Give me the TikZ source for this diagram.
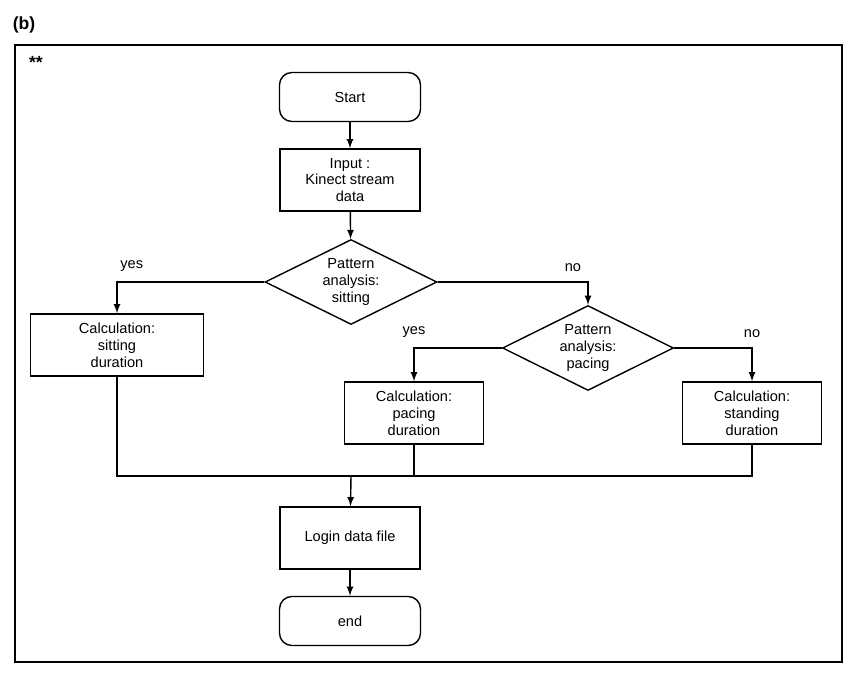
\documentclass[tikz,border=0pt]{standalone}
\usepackage{fontspec}
\setmainfont{Liberation Sans}
\usetikzlibrary{shapes.geometric}
\begin{document}
\begin{tikzpicture} [
                x=0.02cm, y=-0.02cm,
                every node/.style={font=\fontsize{8.3}{9.6}\selectfont, align=center},
                box/.style={draw, thick, inner sep=0pt},
                terminal/.style={box, rounded corners=7pt, minimum width=2.82cm, minimum height=0.98cm},
                process/.style={box, minimum width=2.8cm, minimum height=1.24cm},
                decision/.style={box, diamond, aspect=2, minimum width=3.44cm, minimum height=1.7cm},
                edge/.style={draw, thick},
                arr/.style={edge, -latex},
            ]
            % frame and labels
            \useasboundingbox (0,0) rectangle (859,679);
            \draw[thick] (15,45) rectangle (842,662);
            \node[font=\bfseries\fontsize{10}{12}\selectfont] (tag) at (24,25) {(b)};
            \node[font=\bfseries\fontsize{10}{12}\selectfont] (stars) at (36,62) {**};
            % First we draw the steps
            \node[terminal] (start) at (350,97) {Start};
            \node[process] (input) at (350,180) {Input :\\Kinect stream\\data};
            \node[decision] (sitq) at (351,282) {Pattern\\analysis:\\sitting};
            \node[process, minimum width=3.46cm] (sit) at (117,345) {Calculation:\\sitting\\duration};
            \node[decision, minimum width=3.42cm] (paceq) at (588,348) {Pattern\\analysis:\\pacing};
            \node[process, minimum width=2.78cm] (pace) at (414,413) {Calculation:\\pacing\\duration};
            \node[process, minimum width=2.78cm] (stand) at (752,413) {Calculation:\\standing\\duration};
            \node[process] (login) at (350,538) {Login data file};
            \node[terminal] (end) at (350,621) {end};
            \coordinate (merge) at (351,476);
            % Connect steps with arrows
            \path[arr] (start) -- (input);
            \path[arr] (input) -- (sitq);
            \path[arr] (sitq.west) -| node[pos=0.45, above=2pt] {yes} (sit.north);
            \path[arr] (sitq.east) -| node[pos=0.45, above=2pt] {no} (paceq.north);
            \path[arr] (paceq.west) -| node[pos=0.5, above=2pt] {yes} (pace.north);
            \path[arr] (paceq.east) -| node[pos=0.5, above=2pt] {no} (stand.north);
            \path[edge] (sit.south) |- (merge) -| (stand.south);
            \path[edge] (pace.south) -- (pace.south |- merge);
            \path[arr] (merge) -- (login);
            \path[arr] (login) -- (end);
        \end{tikzpicture}
\end{document}
